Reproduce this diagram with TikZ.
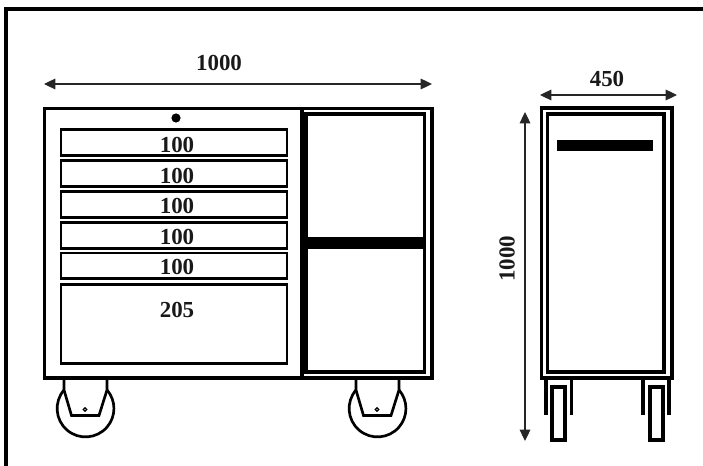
\documentclass[tikz,border=0pt]{standalone}
\usepackage{fontspec}
\usetikzlibrary{arrows.meta}
\setmainfont{Liberation Serif}
\begin{document}
\begin{tikzpicture}[x=0.75pt,y=-0.75pt,
  box/.style={draw=black,line width=2.35pt,fill=white,line join=miter},
  inner box/.style={draw=black,line width=2.35pt,fill=none},
  thin box/.style={draw=black,line width=1.75pt,fill=none},
  leg box/.style={draw=black,line width=2.35pt,fill=none},
  thread/.style={draw=black,line width=2pt},
  legline/.style={draw=black,line width=2.4pt},
  bar/.style={fill=black,draw=none},
  dim/.style={draw=black!85,line width=0.85pt,{Triangle[length=8.5pt,width=8pt]}-{Triangle[length=8.5pt,width=8pt]}},
  lbl/.style={font=\fontsize{17.2pt}{18pt}\selectfont\bfseries,inner sep=0pt,text=black!90}]
\useasboundingbox (0,0) rectangle (703,466);
\fill[white] (0,0) rectangle (703,466);
% frame
\draw[black,line width=2.3pt] (6,466) -- (6,9) -- (703,9);
% front view
\draw[box] (44.5,108.5) rectangle (432,378);
\draw[line width=2.35pt] (302,108) -- (302,378);
\draw[inner box] (306,114) rectangle (424.5,372);
\fill[bar] (308,237) rectangle (423,249);
\fill (176,118) circle (4.6);
\draw[thin box] (60.7,129.4) rectangle (286.7,155.6);
\draw[thin box] (60.7,160.4) rectangle (286.7,186.6);
\draw[thin box] (60.7,191.4) rectangle (286.7,217.6);
\draw[thin box] (60.7,222.4) rectangle (286.7,248.6);
\draw[thin box] (60.7,252.9) rectangle (286.7,278.6);
\draw[thin box] (60.7,284.4) rectangle (286.7,363.6);
\foreach \n/\y/\t in {a/145/100,b/175.5/100,c/206/100,d/237/100,e/267/100,f/310/205}
  \node[lbl] (d\n) at (177,\y) {\t};
% casters
\foreach \o/\n in {0/l,292/r}{
  \begin{scope}[xshift=\o*0.75pt]
    \draw[thread,line join=miter] (64,378) -- (64,390) -- (71.5,415.5) -- (99,415.5) -- (107,390) -- (107,378);
    \draw[thread] (64,390) arc[start angle=220.7,end angle=-40.7,x radius=28.4,y radius=28.4];
    \draw[line width=1pt] (85,409.5) circle (1.7);
  \end{scope}
}
% side view
\draw[box] (541.5,108) rectangle (672,378);
\draw[inner box] (547.5,114) rectangle (664,372);
\fill[bar] (557,140) rectangle (653,151);
\foreach \x in {546,571.5,643,669}
  \draw[legline] (\x,380) -- (\x,415);
\draw[leg box] (552,387) rectangle (565,440);
\draw[leg box] (650,387) rectangle (663,440);
% dimensions
\coordinate (tl) at (44,84); \coordinate (tr) at (432,84);
\coordinate (sl) at (540,95); \coordinate (sr) at (677,95);
\coordinate (vt) at (525,112); \coordinate (vb) at (525,441);
\draw[dim] (tl) -- (tr);
\draw[dim] (sl) -- (sr);
\draw[dim] (vt) -- (vb);
\node[lbl] (w1) at (219,62.5) {1000};
\node[lbl] (w2) at (607,79) {450};
\node[lbl,rotate=90] (h1) at (507,259) {1000};
\end{tikzpicture}
\end{document}
